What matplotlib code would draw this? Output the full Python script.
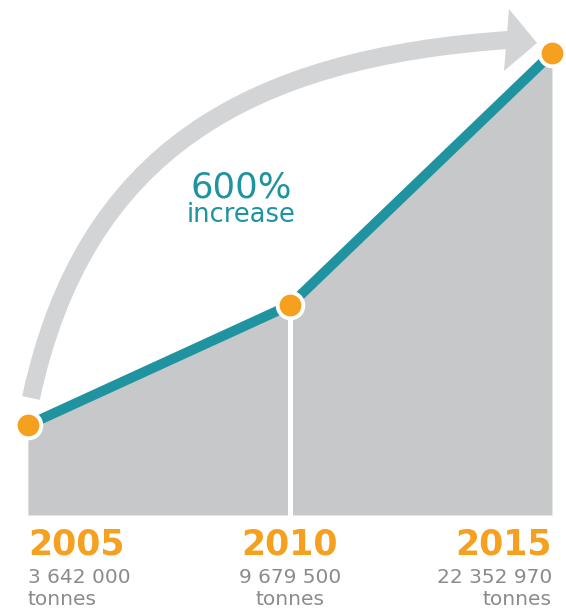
import matplotlib
matplotlib.use("Agg")
import matplotlib.pyplot as plt
from matplotlib.path import Path
from matplotlib.patches import PathPatch, Polygon

# data
years = [2005, 2010, 2015]
tonnes = [3642000, 9679500, 22352970]
value_labels = ["3 642 000", "9 679 500", "22 352 970"]
unit = "tonnes"
headline = "600%"
subline = "increase"

ORANGE = "#f6a01f"
TEAL = "#1f93a0"
FILL = "#c7c8ca"
ARROW = "#d3d4d6"
GREY_TXT = "#8b8b8d"

W, H = 566, 610
fig = plt.figure(figsize=(W / 100, H / 100), dpi=100)

# pixel overlay for the decorative arrow and the headline text
ov = fig.add_axes([0, 0, 1, 1])
ov.set_xlim(0, W)
ov.set_ylim(H, 0)
ov.axis("off")

verts = [(31, 398), (84, 150), (250, 58), (508, 40)]
codes = [Path.MOVETO, Path.CURVE4, Path.CURVE4, Path.CURVE4]
ov.add_patch(PathPatch(Path(verts, codes), facecolor="none", edgecolor=ARROW,
                       lw=13, capstyle="butt"))
ov.add_patch(Polygon([(509, 9), (537, 43), (504, 71)], closed=True,
                     facecolor=ARROW, edgecolor="none"))

ov.text(241, 197, headline, color=TEAL, fontsize=25.5, ha="center", va="baseline",
        family="DejaVu Sans")
ov.text(241, 222, subline, color=TEAL, fontsize=18.5, ha="center", va="baseline",
        family="DejaVu Sans")

# data axes
ax = fig.add_axes([0, 0, 1, 1])
ax.patch.set_alpha(0)
ax.axis("off")
ax.set_xlim(2004.468, 2015.268)
ax.set_ylim(-5.663e6, 25.04e6)
base = -0.88e6

ax.fill_between(years, tonnes, base, color=FILL, lw=0, zorder=1)
ax.plot([years[1], years[1]], [base, tonnes[1]], color="white", lw=3.6, zorder=2)
ax.plot(years, tonnes, color=TEAL, lw=7.2, solid_capstyle="butt", zorder=3)
ax.plot(years, tonnes, "o", ms=18.5, mfc=ORANGE, mec="white", mew=2.8, zorder=4)

aligns = ["left", "center", "right"]
for yr, lab, ha in zip(years, value_labels, aligns):
    ax.annotate(str(yr), (yr, base), xytext=(0, -28.8), textcoords="offset points",
                ha=ha, va="baseline", color=ORANGE, fontsize=25, fontweight="bold")
    ax.annotate(lab, (yr, base), xytext=(0, -49), textcoords="offset points",
                ha=ha, va="baseline", color=GREY_TXT, fontsize=14.5)
    ax.annotate(unit, (yr, base), xytext=(0, -64.8), textcoords="offset points",
                ha=ha, va="baseline", color=GREY_TXT, fontsize=14.5)

fig.savefig("out.png", dpi=100)
